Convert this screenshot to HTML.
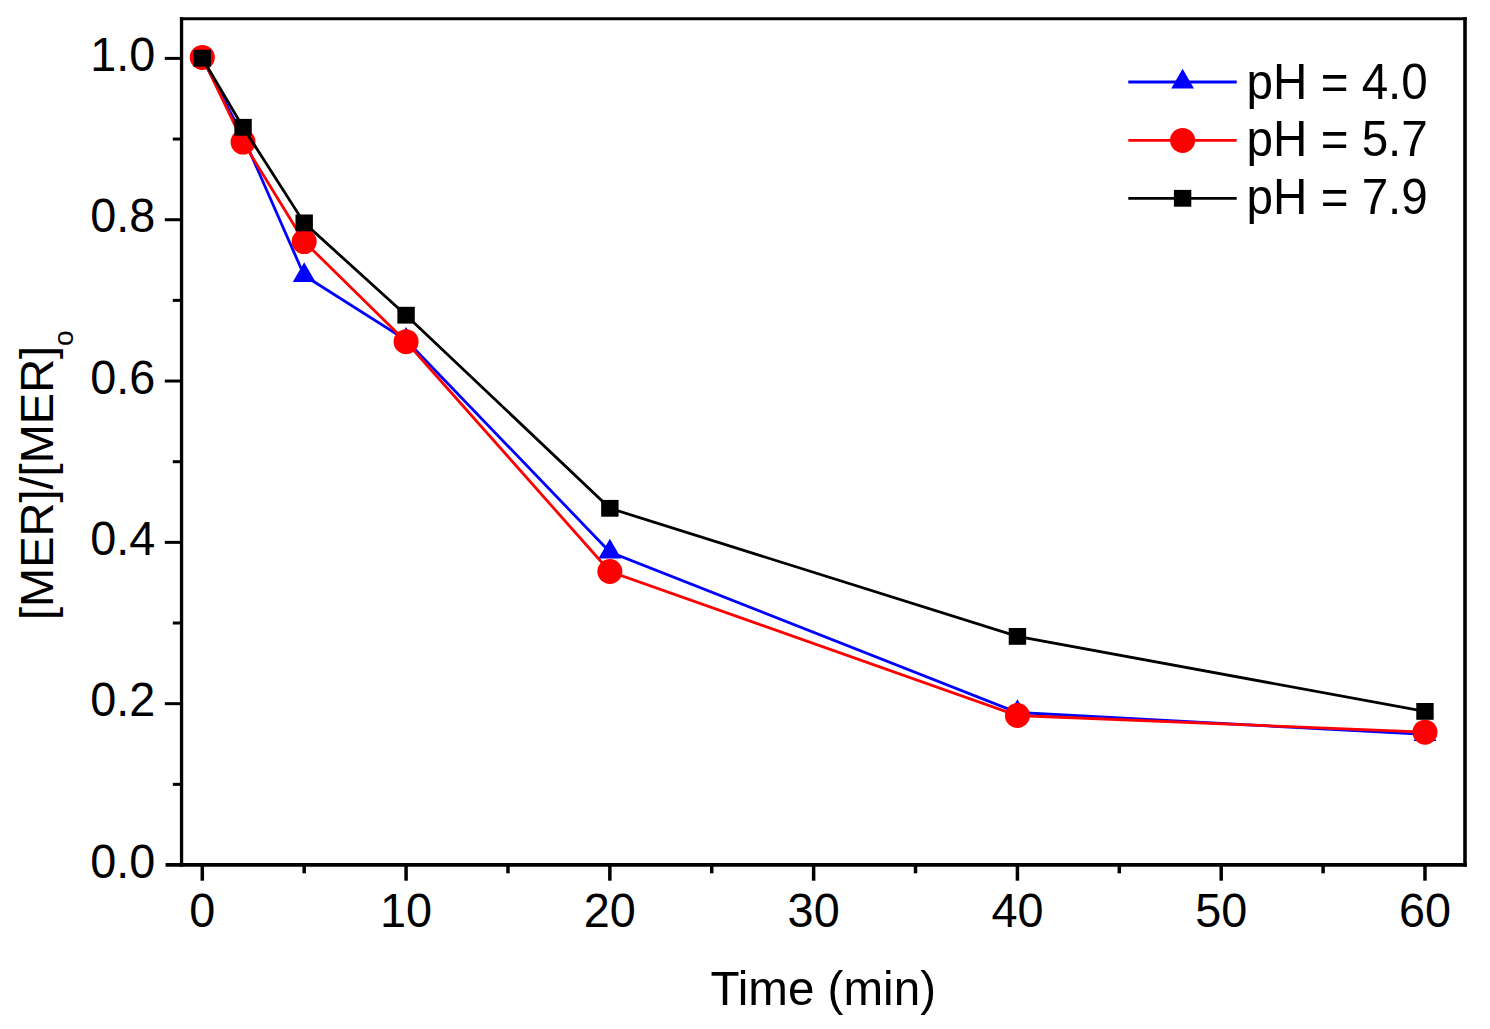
<!DOCTYPE html>
<html><head><meta charset="utf-8"><style>
html,body{margin:0;padding:0;background:#fff;}
body{width:1490px;height:1029px;overflow:hidden;}
svg{display:block;}
text{font-family:"Liberation Sans",sans-serif;font-size:47px;fill:#000;}
</style></head><body>
<svg width="1490" height="1029" viewBox="0 0 1490 1029">
<rect width="1490" height="1029" fill="#fff"/>
<line x1="181.55" y1="17.25" x2="181.55" y2="866.6999999999999" stroke="#000" stroke-width="3.3"/>
<line x1="1465.0" y1="17.25" x2="1465.0" y2="866.6999999999999" stroke="#000" stroke-width="3.6"/>
<line x1="179.95000000000002" y1="18.75" x2="1466.8" y2="18.75" stroke="#000" stroke-width="3"/>
<line x1="165.55" y1="864.9" x2="1466.8" y2="864.9" stroke="#000" stroke-width="3.7"/>
<line x1="172.8" y1="784.34" x2="181.55" y2="784.34" stroke="#000" stroke-width="3"/>
<line x1="164.8" y1="703.68" x2="181.55" y2="703.68" stroke="#000" stroke-width="3"/>
<line x1="172.8" y1="623.02" x2="181.55" y2="623.02" stroke="#000" stroke-width="3"/>
<line x1="164.8" y1="542.36" x2="181.55" y2="542.36" stroke="#000" stroke-width="3"/>
<line x1="172.8" y1="461.70" x2="181.55" y2="461.70" stroke="#000" stroke-width="3"/>
<line x1="164.8" y1="381.04" x2="181.55" y2="381.04" stroke="#000" stroke-width="3"/>
<line x1="172.8" y1="300.38" x2="181.55" y2="300.38" stroke="#000" stroke-width="3"/>
<line x1="164.8" y1="219.72" x2="181.55" y2="219.72" stroke="#000" stroke-width="3"/>
<line x1="172.8" y1="139.06" x2="181.55" y2="139.06" stroke="#000" stroke-width="3"/>
<line x1="164.8" y1="58.40" x2="181.55" y2="58.40" stroke="#000" stroke-width="3"/>
<line x1="202.30" y1="864.9" x2="202.30" y2="880.7" stroke="#000" stroke-width="3.5"/>
<line x1="304.19" y1="864.9" x2="304.19" y2="873.3" stroke="#000" stroke-width="3.5"/>
<line x1="406.08" y1="864.9" x2="406.08" y2="880.7" stroke="#000" stroke-width="3.5"/>
<line x1="507.97" y1="864.9" x2="507.97" y2="873.3" stroke="#000" stroke-width="3.5"/>
<line x1="609.86" y1="864.9" x2="609.86" y2="880.7" stroke="#000" stroke-width="3.5"/>
<line x1="711.75" y1="864.9" x2="711.75" y2="873.3" stroke="#000" stroke-width="3.5"/>
<line x1="813.64" y1="864.9" x2="813.64" y2="880.7" stroke="#000" stroke-width="3.5"/>
<line x1="915.53" y1="864.9" x2="915.53" y2="873.3" stroke="#000" stroke-width="3.5"/>
<line x1="1017.42" y1="864.9" x2="1017.42" y2="880.7" stroke="#000" stroke-width="3.5"/>
<line x1="1119.31" y1="864.9" x2="1119.31" y2="873.3" stroke="#000" stroke-width="3.5"/>
<line x1="1221.20" y1="864.9" x2="1221.20" y2="880.7" stroke="#000" stroke-width="3.5"/>
<line x1="1323.09" y1="864.9" x2="1323.09" y2="873.3" stroke="#000" stroke-width="3.5"/>
<line x1="1424.98" y1="864.9" x2="1424.98" y2="880.7" stroke="#000" stroke-width="3.5"/>
<text transform="translate(155.20,877.60) scale(1,1.04)" text-anchor="end" style="font-size:46.8px">0.0</text>
<text transform="translate(155.20,716.28) scale(1,1.04)" text-anchor="end" style="font-size:46.8px">0.2</text>
<text transform="translate(155.20,554.96) scale(1,1.04)" text-anchor="end" style="font-size:46.8px">0.4</text>
<text transform="translate(155.20,393.64) scale(1,1.04)" text-anchor="end" style="font-size:46.8px">0.6</text>
<text transform="translate(155.20,232.32) scale(1,1.04)" text-anchor="end" style="font-size:46.8px">0.8</text>
<text transform="translate(155.20,71.00) scale(1,1.04)" text-anchor="end" style="font-size:46.8px">1.0</text>
<text transform="translate(202.30,926.50) scale(1,1.04)" text-anchor="middle" style="font-size:46.8px">0</text>
<text transform="translate(406.08,926.50) scale(1,1.04)" text-anchor="middle" style="font-size:46.8px">10</text>
<text transform="translate(609.86,926.50) scale(1,1.04)" text-anchor="middle" style="font-size:46.8px">20</text>
<text transform="translate(813.64,926.50) scale(1,1.04)" text-anchor="middle" style="font-size:46.8px">30</text>
<text transform="translate(1017.42,926.50) scale(1,1.04)" text-anchor="middle" style="font-size:46.8px">40</text>
<text transform="translate(1221.20,926.50) scale(1,1.04)" text-anchor="middle" style="font-size:46.8px">50</text>
<text transform="translate(1424.98,926.50) scale(1,1.04)" text-anchor="middle" style="font-size:46.8px">60</text>
<text transform="translate(823.20,1004.80) scale(1,1.023)" text-anchor="middle" style="font-size:47.6px">Time (min)</text>
<text transform="translate(53.2,620) rotate(-90)" x="0" y="0">[MER]/[MER]</text>
<text transform="translate(53.2,620) rotate(-90)" x="274" y="19.3" style="font-size:28px">o</text>
<polyline points="202.30,58.00 243.06,136.50 304.19,275.50 406.08,340.10 609.86,552.00 1017.42,712.50 1424.98,734.40" fill="none" stroke="#0000ff" stroke-width="2.8" stroke-linejoin="miter"/>
<polygon points="243.06,123.34 231.66,143.08 254.46,143.08" fill="#0000ff"/>
<polygon points="304.19,262.34 292.79,282.08 315.59,282.08" fill="#0000ff"/>
<polygon points="406.08,326.94 394.68,346.68 417.48,346.68" fill="#0000ff"/>
<polygon points="609.86,538.84 598.46,558.58 621.26,558.58" fill="#0000ff"/>
<polygon points="1017.42,699.34 1006.02,719.08 1028.82,719.08" fill="#0000ff"/>
<polygon points="1424.98,721.24 1413.58,740.98 1436.38,740.98" fill="#0000ff"/>
<polyline points="202.30,57.40 243.06,142.10 304.19,241.60 406.08,341.70 609.86,571.50 1017.42,715.50 1424.98,732.20" fill="none" stroke="#ff0000" stroke-width="2.8" stroke-linejoin="miter"/>
<circle cx="202.30" cy="57.40" r="12.5" fill="#ff0000"/>
<circle cx="243.06" cy="142.10" r="12.5" fill="#ff0000"/>
<circle cx="304.19" cy="241.60" r="12.5" fill="#ff0000"/>
<circle cx="406.08" cy="341.70" r="12.5" fill="#ff0000"/>
<circle cx="609.86" cy="571.50" r="12.5" fill="#ff0000"/>
<circle cx="1017.42" cy="715.50" r="12.5" fill="#ff0000"/>
<circle cx="1424.98" cy="732.20" r="12.5" fill="#ff0000"/>
<polyline points="202.30,58.20 243.06,127.30 304.19,222.90 406.08,315.20 609.86,508.30 1017.42,636.40 1424.98,711.40" fill="none" stroke="#000000" stroke-width="2.8" stroke-linejoin="miter"/>
<rect x="193.60" y="49.80" width="17.4" height="16.8" fill="#000000"/>
<rect x="234.36" y="118.90" width="17.4" height="16.8" fill="#000000"/>
<rect x="295.49" y="214.50" width="17.4" height="16.8" fill="#000000"/>
<rect x="397.38" y="306.80" width="17.4" height="16.8" fill="#000000"/>
<rect x="601.16" y="499.90" width="17.4" height="16.8" fill="#000000"/>
<rect x="1008.72" y="628.00" width="17.4" height="16.8" fill="#000000"/>
<rect x="1416.28" y="703.00" width="17.4" height="16.8" fill="#000000"/>
<line x1="1128.3" y1="82.0" x2="1236.7" y2="82.0" stroke="#0000ff" stroke-width="2.8"/>
<polygon points="1182.60,68.84 1171.20,88.58 1194.00,88.58" fill="#0000ff"/>
<text transform="translate(1246.60,98.60) scale(1,1.03)" style="font-size:47.6px">pH = 4.0</text>
<line x1="1128.3" y1="140.4" x2="1236.7" y2="140.4" stroke="#ff0000" stroke-width="2.8"/>
<circle cx="1182.60" cy="140.40" r="12.5" fill="#ff0000"/>
<text transform="translate(1246.60,156.30) scale(1,1.03)" style="font-size:47.6px">pH = 5.7</text>
<line x1="1128.3" y1="198.3" x2="1236.7" y2="198.3" stroke="#000000" stroke-width="2.8"/>
<rect x="1173.90" y="189.90" width="17.4" height="16.8" fill="#000000"/>
<text transform="translate(1246.60,213.60) scale(1,1.03)" style="font-size:47.6px">pH = 7.9</text>
</svg>
</body></html>
